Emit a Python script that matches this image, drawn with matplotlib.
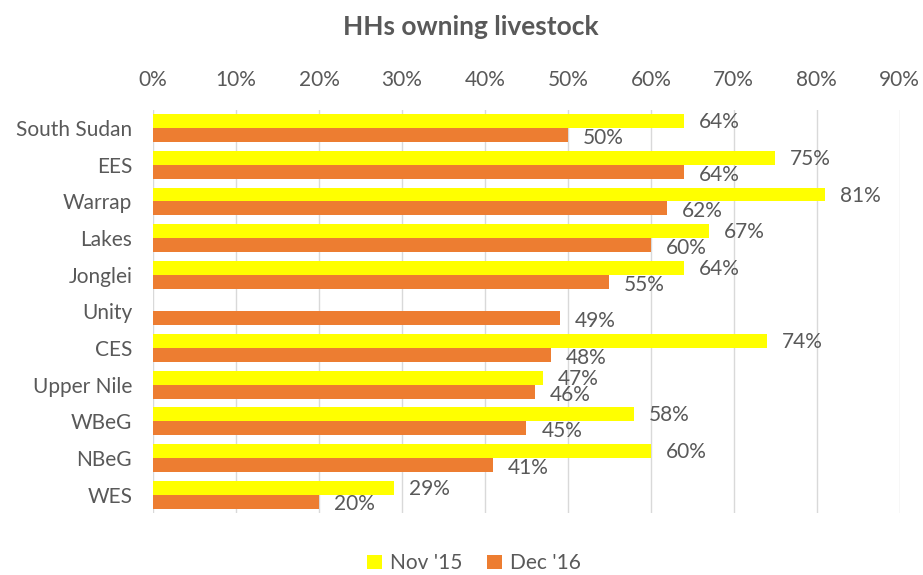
import matplotlib
matplotlib.use("Agg")
import matplotlib.pyplot as plt
import numpy as np

plt.rcParams['font.family'] = ['Lato', 'DejaVu Sans']

regions = ['South Sudan', 'EES', 'Warrap', 'Lakes', 'Jonglei', 'Unity',
           'CES', 'Upper Nile', 'WBeG', 'NBeG', 'WES']
# Unity has no Nov '15 value
nov15 = [64, 75, 81, 67, 64, None, 74, 47, 58, 60, 29]
dec16 = [50, 64, 62, 60, 55, 49, 48, 46, 45, 41, 20]
ticks = [0, 10, 20, 30, 40, 50, 60, 70, 80, 90]

grey = '#595959'
yellow = '#FFFF00'
orange = '#ED7D31'

fig = plt.figure(figsize=(9.23, 5.75), dpi=100)
ax = fig.add_axes([0.1658, 0.108, 0.809, 0.701])

y = np.arange(len(regions))
h = 0.38
nov_vals = [v if v is not None else 0 for v in nov15]
ax.barh(y - h / 2, nov_vals, height=h, color=yellow, label="Nov '15", zorder=2)
ax.barh(y + h / 2, dec16, height=h, color=orange, label="Dec '16", zorder=2)

for i, v in enumerate(nov15):
    if v is not None:
        ax.text(v + 1.8, i - h / 2 + 0.03, f'{v}%', va='center', ha='left',
                color=grey, fontsize=15)
for i, v in enumerate(dec16):
    ax.text(v + 1.8, i + h / 2 + 0.08, f'{v}%', va='center', ha='left',
            color=grey, fontsize=15)

ax.set_xlim(0, 90)
ax.set_ylim(10.5, -0.5)
ax.set_xticks(ticks)
ax.set_xticklabels([f'{t}%' for t in ticks])
ax.set_yticks(y)
ax.set_yticklabels(regions)
ax.xaxis.tick_top()
ax.tick_params(axis='both', length=0, colors=grey, labelsize=15)
ax.tick_params(axis='x', pad=14)
ax.tick_params(axis='y', pad=15)
ax.grid(axis='x', color='#D9D9D9', linewidth=1, zorder=0)
for s in ax.spines.values():
    s.set_visible(False)

fig.text(0.51, 0.953, 'HHs owning livestock', ha='center', va='center',
         fontsize=19, fontweight='bold', color=grey)

ax.legend(loc='center', bbox_to_anchor=(0.43, -0.125), ncol=2, frameon=False,
          fontsize=15, handlelength=0.7, handleheight=0.7, handletextpad=0.4,
          columnspacing=1.2, labelcolor=grey)

fig.savefig('out.png', dpi=100)
